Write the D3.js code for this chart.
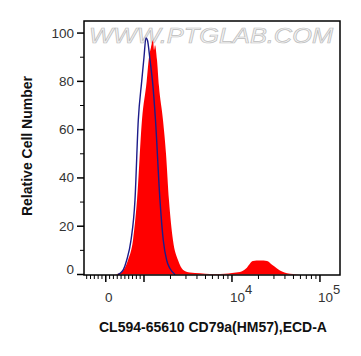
<!DOCTYPE html>
<html><head><meta charset="utf-8">
<script src="https://cdn.jsdelivr.net/npm/d3@7"></script>
<style>body{margin:0;background:#fff} svg{display:block}</style>
</head><body>
<svg id="c" width="361" height="356"></svg>
<script>
// ---- data (fluorescence value, relative count) ----
const redX  = [241, 319, 450, 581, 712, 817, 947, 1073, 1140, 1201, 1266, 1300, 1334, 1405, 1480, 1644, 1779, 1923, 2136, 2440, 2773, 3333, 4332, 4938, 6417, 8331, 10010, 12340, 14440, 17340, 20840, 25030, 28530, 32520, 37060, 42200, 49420, 59360];
const redY  = [0, 0.3, 1.5, 5.9, 14.2, 30.8, 64, 80, 90, 94, 97, 93, 95, 89, 78, 64, 50, 30.8, 14.2, 5.9, 2, 0.8, 0.5, 0.3, 0.2, 0.3, 0.6, 1, 2.5, 5.6, 5.8, 5.6, 4, 2.5, 1.2, 0.5, 0.2, 0];
const blueX = [319, 400, 460, 547, 660, 764, 851, 940, 1000, 1053, 1095, 1170, 1265, 1351, 1519, 1657, 1811, 1974, 2252];
const blueY = [0, 0.8, 2, 5.9, 14.2, 30.8, 64, 80, 90, 98, 97, 89, 78, 64, 30.8, 14.2, 5.9, 2.5, 0];
const yMajor = [0, 20, 40, 60, 80, 100];
const yMinor = [10, 30, 50, 70, 90];
const xMajor = [0, 1000, 10000, 100000];
const xMinor = [-500, -400, -300, -200, -100, 100, 200, 300, 400, 500, 600, 700, 800, 900,
  2000, 3000, 4000, 5000, 6000, 7000, 8000, 9000, 20000, 30000, 40000, 50000, 60000, 70000, 80000, 90000];
const xLabelVals = [0, 10000, 100000];
const xLabelBase = ["0", "10", "10"];
const xLabelExp  = ["", "4", "5"];
const xTitle = "CL594-65610 CD79a(HM57),ECD-A";
const yTitle = "Relative Cell Number";
const watermark = "WWW.PTGLAB.COM";

// ---- layout ----
const L = 84, R = 340, T0 = 21, B = 275;
const svg = d3.select("#c");
const font = "'Liberation Sans', Arial, sans-serif";

// biexponential-like transform: linear near zero, log above 1000
const biex = v => Math.abs(v) <= 1000 ? v : Math.sign(v) * 1000 * (1 + Math.log(Math.abs(v) / 1000));
const xs = d3.scaleLinear().domain([biex(-570), biex(169000)]).range([L, R]);
const x = v => xs(biex(v));
const y = d3.scaleLinear().domain([0, 105]).range([274.5, T0]);

// watermark
svg.append("text").attr("x", 89).attr("y", 43).text(watermark)
  .attr("font-family", font).attr("font-style", "italic").attr("font-size", 22)
  .attr("textLength", 244).attr("lengthAdjust", "spacingAndGlyphs")
  .attr("fill", "#f3f3f3").attr("stroke", "#bdbdbd").attr("stroke-width", 0.7);

// red filled histogram
const red = redX.map((v, i) => [v, redY[i]]);
svg.append("path").datum(red)
  .attr("d", d3.area().x(d => x(d[0])).y0(y(0)).y1(d => y(d[1])).curve(d3.curveMonotoneX))
  .attr("fill", "#ff0000");

// blue control outline
const blue = blueX.map((v, i) => [v, blueY[i]]);
svg.append("path").datum(blue)
  .attr("d", d3.line().x(d => x(d[0])).y(d => y(d[1])).curve(d3.curveMonotoneX))
  .attr("fill", "none").attr("stroke", "#1c1c8a").attr("stroke-width", 1.4);

// frame
svg.append("rect").attr("x", L).attr("y", T0).attr("width", R - L).attr("height", B - T0)
  .attr("fill", "none").attr("stroke", "#000").attr("stroke-width", 1.5);

// y axis ticks
svg.selectAll(".ymaj").data(yMajor).join("line")
  .attr("x1", L - 7).attr("x2", L).attr("y1", d => y(d)).attr("y2", d => y(d))
  .attr("stroke", "#000").attr("stroke-width", 1.5);
svg.selectAll(".ymin").data(yMinor).join("line")
  .attr("x1", L - 4).attr("x2", L).attr("y1", d => y(d)).attr("y2", d => y(d))
  .attr("stroke", "#000").attr("stroke-width", 1);
svg.selectAll(".ylab").data(yMajor).join("text")
  .attr("x", 74).attr("y", d => y(d) + (d === 0 ? -0.5 : 4.5))
  .attr("text-anchor", "end").attr("font-family", font).attr("font-size", 13.5)
  .attr("fill", "#333").text(d => d);

// x axis ticks
svg.selectAll(".xmaj").data(xMajor).join("line")
  .attr("x1", d => x(d)).attr("x2", d => x(d)).attr("y1", B).attr("y2", B + 7)
  .attr("stroke", "#000").attr("stroke-width", 1.5);
svg.selectAll(".xmin").data(xMinor.filter(v => x(v) >= L && x(v) <= R)).join("line")
  .attr("x1", d => x(d)).attr("x2", d => x(d)).attr("y1", B).attr("y2", B + 4)
  .attr("stroke", "#000").attr("stroke-width", 1);
const xl = svg.selectAll(".xlab").data(xLabelVals).join("text")
  .attr("font-family", font).attr("font-size", 13.5).attr("fill", "#333")
  .attr("y", 302)
  .attr("x", (d, i) => i === 0 ? x(d) + 3 : x(d) - 2)
  .attr("text-anchor", (d, i) => i === 0 ? "middle" : "start");
xl.append("tspan").text((d, i) => xLabelBase[i]);
xl.append("tspan").attr("dy", -8).attr("font-size", 13).text((d, i) => xLabelExp[i]);

// titles
svg.append("text").attr("x", 213).attr("y", 332).attr("text-anchor", "middle")
  .attr("font-family", font).attr("font-weight", "bold").attr("font-size", 14)
  .attr("fill", "#111").text(xTitle);
svg.append("text").attr("transform", "translate(32,146) rotate(-90)").attr("text-anchor", "middle")
  .attr("font-family", font).attr("font-weight", "bold").attr("font-size", 14)
  .attr("fill", "#111").text(yTitle);
</script>
</body></html>
